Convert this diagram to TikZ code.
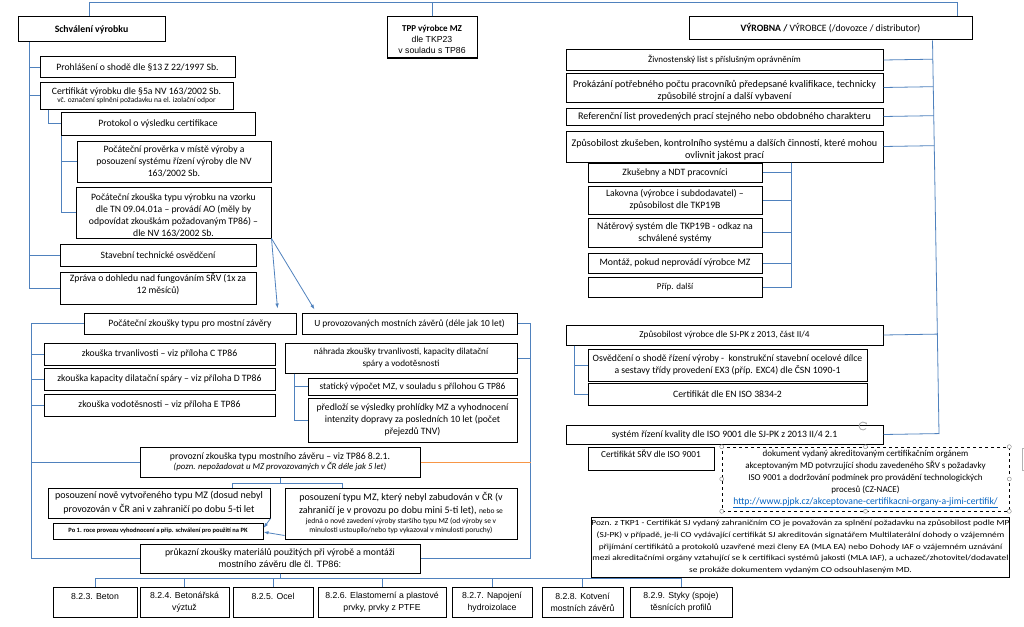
\documentclass[tikz,border=0pt]{standalone}
\usepackage{fontspec}
\setmainfont{Carlito}
\newfontfamily\arialfont{Liberation Sans}
\newfontfamily\widefont[FakeStretch=1.2]{Carlito}
\usetikzlibrary{calc}
\usetikzlibrary{arrows.meta}

\definecolor{linkblue}{RGB}{79,129,189}
\definecolor{orangeline}{RGB}{247,150,70}
\definecolor{hrefblue}{RGB}{5,99,193}
\def\smalltxt{\fontsize{7.5}{8}\selectfont}

\tikzset{
  box/.style={draw, line width=1pt, inner sep=0pt, align=center,
    font=\fontsize{9.7}{12}\selectfont},
  rect/.style n args={4}{at={({(#1+#3)/2},{(#2+#4)/2})},
    minimum width={#3-#1}, minimum height={#4-#2}},
  fs/.style={font=\fontsize{#1}{12}\selectfont},
  conn/.style={draw=linkblue, line width=0.8pt},
  tip/.style={-{Latex[length=5pt,width=3.5pt]}},
  arialbox/.style={box, font=\arialfont\fontsize{8.7}{12}\selectfont}
}

\begin{document}
\begin{tikzpicture}[x=1pt,y=-1pt]
\useasboundingbox (0,0) rectangle (1024,626);

% schvaleni vyrobku
\node[box, rect={18}{17}{165}{42}, font=\bfseries\fontsize{9.8}{11}\selectfont] (schval) {Schválení výrobku};
\node[box, rect={40}{57}{235}{77}] (prohl) {Prohlášení o shodě dle §13 Z 22/1997 Sb.};
\node[box, rect={40}{82}{233}{109}] (certif) {Certifikát výrobku dle §5a NV 163/2002 Sb.\\[-3.5pt]{\smalltxt vč. označení splnění požadavku na el. izolační odpor}};
\node[box, rect={61}{112}{255}{135}] (protok) {Protokol o výsledku certifikace};
\node[box, rect={77}{141}{271}{182}] (prov) {Počáteční prověrka v místě výroby a\\posouzení systému řízení výroby dle NV\\163/2002 Sb.};
\node[box, rect={76}{187}{271}{238}] (pzk) {\rule{0pt}{12pt}Počáteční zkouška typu výrobku na vzorku\\dle TN 09.04.01a – provádí AO (měly by\\odpovídat zkouškám požadovaným TP86) –\\dle NV 163/2002 Sb.};
\node[box, rect={60}{244}{256}{266}] (stav) {Stavební technické osvědčení};
\node[box, rect={60}{272}{256}{304}] (zprava) {Zpráva o dohledu nad fungováním SŘV (1x za\\12 měsíců)\\[-4pt]\mbox{}};

% TPP
\node[arialbox, rect={387}{17}{477}{58}, font=\arialfont\fontsize{8.7}{11}\selectfont] (tpp) {\rule{0pt}{11pt}{\rmfamily\bfseries\fontsize{9}{11}\selectfont TPP výrobce MZ}\\dle TKP23\\v souladu s TP86};

% vyrobna
\node[box, rect={689}{17}{972}{40}] (vyrob) {\textbf{VÝROBNA /} VÝROBCE (/dovozce / distributor)};
\node[box, fs=9, rect={566}{50}{883}{70}] (zivn) {Živnostenský list s příslušným oprávněním};
\node[box, fs=10.1, rect={566}{73}{883}{102}] (prok) {\rule{0pt}{13pt}Prokázání potřebného počtu pracovníků předepsané kvalifikace, technicky\\způsobilé strojní a další vybavení};
\node[box, fs=10.1, rect={566}{108}{883}{125}] (refer) {Referenční list provedených prací stejného nebo obdobného charakteru};
\node[box, fs=10.1, rect={566}{131}{883}{162}] (zpus) {\rule{0pt}{13pt}Způsobilost zkušeben, kontrolního systému a dalších činností, které mohou\\ovlivnit jakost prací};
\node[box, rect={588}{163}{762}{182}] (zkus) {Zkušebny a NDT pracovníci};
\node[box, rect={588}{186}{762}{214}] (lak) {Lakovna (výrobce i subdodavatel) –\\způsobilost dle TKP19B};
\node[box, fs=9.8, rect={588}{218}{762}{247}] (nater) {Nátěrový systém dle TKP19B - odkaz na\\schválené systémy};
\node[box, fs=9.8, rect={588}{253}{762}{273}] (mont) {Montáž, pokud neprovádí výrobce MZ};
\node[box, fs=9, rect={588}{277}{762}{297}] (dalsi) {Příp. další};
\node[box, fs=9.2, rect={566}{325}{883}{345}] (sjpk) {Způsobilost výrobce dle SJ-PK z 2013, část II/4};
\node[box, rect={588}{349}{867}{381}] (osv) {Osvědčení o shodě řízení výroby -\ \ konstrukční stavební ocelové dílce\\a sestavy třídy provedení EX3 (příp. EXC4) dle ČSN 1090-1};
\node[box, rect={588}{383}{867}{405}] (cen) {Certifikát dle EN ISO 3834-2};
\node[box, rect={566}{425}{883}{444}] (iso) {systém řízení kvality dle ISO 9001 dle SJ-PK z 2013 II/4 2.1};
\node[box, fs=9.2, rect={588}{447}{714}{470}] (csrv) {Certifikát SŘV dle ISO 9001\\[-3pt]\mbox{}};
\node[box, dashed, line width=0.6pt, rect={722}{447}{1009}{511}, font=\fontsize{9}{12}\selectfont] (dok) {dokument vydaný akreditovaným certifikačním orgánem\\akceptovaným MD potvrzující shodu zavedeného SŘV s požadavky\\ISO 9001 a dodržování podmínek pro provádění technologických\\procesů (CZ-NACE)\\{\fontsize{9.7}{11}\selectfont\textcolor{hrefblue}{\underline{http://www.pjpk.cz/akceptovane-certifikacni-organy-a-jimi-certifik/}}}};
\node[box, rect={593}{517}{1008}{577}, font=\widefont\fontsize{7.8}{11.8}\selectfont] (pozn) {Pozn. z TKP1 - Certifikát SJ vydaný zahraničním CO je považován za splnění požadavku na způsobilost podle MP\\(SJ-PK) v případě, je-li CO vydávající certifikát SJ akreditován signatářem Multilaterální dohody o vzájemném\\přijímání certifikátů a protokolů uzavřené mezi členy EA (MLA EA) nebo Dohody IAF o vzájemném uznávání\\mezi akreditačními orgány vztahující se k certifikaci systémů jakosti (MLA IAF), a uchazeč/zhotovitel/dodavatel\\se prokáže dokumentem vydaným CO odsouhlaseným MD.};

% mostni zavery
\node[box, rect={84}{313}{296}{334}] (pocz) {Počáteční zkoušky typu pro mostní závěry};
\node[box, fs=9.4, rect={302}{313}{517}{334}] (uprov) {U provozovaných mostních závěrů (déle jak 10 let)};
\node[box, rect={44}{343}{275}{365}] (trv) {zkouška trvanlivosti – viz příloha C TP86};
\node[box, rect={44}{368}{275}{390}] (kap) {zkouška kapacity dilatační spáry – viz příloha D TP86};
\node[box, rect={44}{394}{275}{416}] (vod) {zkouška vodotěsnosti – viz příloha E TP86};
\node[box, fs=9.2, rect={285}{343}{517}{373}] (nahr) {náhrada zkoušky trvanlivosti, kapacity dilatační\\spáry a vodotěsnosti};
\node[box, fs=9.4, rect={308}{378}{517}{395}] (stat) {statický výpočet MZ, v souladu s přílohou G TP86};
\node[box, rect={308}{398}{517}{442}] (predl) {předloží se výsledky prohlídky MZ a vyhodnocení\\intenzity dopravy za posledních 10 let (počet\\přejezdů TNV)};
\node[box, rect={140}{447}{420}{477}] (provz) {provozní zkouška typu mostního závěru – viz TP86 8.2.1.\\[-1.5pt]{\itshape\fontsize{8.8}{9}\selectfont (pozn. nepožadovat u MZ provozovaných v ČR déle jak 5 let)}};
\node[box, rect={48}{488}{270}{518}, font=\fontsize{10}{14}\selectfont] (nove) {posouzení nově vytvořeného typu MZ (dosud nebyl\\provozován v ČR ani v zahraničí po dobu 5-ti let};
\node[box, rect={285}{488}{517}{539}, font=\fontsize{10}{13}\selectfont] (typmz) {posouzení typu MZ, který nebyl zabudován v ČR (v\\zahraničí je v provozu po dobu mini 5-ti let), {\smalltxt nebo se}\\[-3pt]{\smalltxt jedná o nové zavedení výroby staršího typu MZ (od výroby se v}\\[-4pt]{\smalltxt minulosti ustoupilo/nebo typ vykazoval v minulosti poruchy)}};
\node[box, rect={53}{523}{263}{539}, font=\bfseries\fontsize{6.5}{7}\selectfont] (po1) {Po 1. roce provozu vyhodnocení a příp. schválení pro použití na PK};
\node[box, rect={140}{544}{420}{573}] (prukaz) {průkazní zkoušky materiálů použitých při výrobě a montáži\\{\arialfont\fontsize{9.2}{10}\selectfont mostního závěru dle čl. TP86:}};
\foreach \n/\xa/\xb/\txt in {1/53/137/{8.2.3. Beton\\\mbox{}}, 2/140/229/{8.2.4. Betonářská\\výztuž}, 3/233/313/{8.2.5. Ocel\\\mbox{}}, 4/318/446/{8.2.6. Elastomerní a plastové\\prvky, prvky z PTFE}, 5/452/532/{8.2.7. Napojení\\hydroizolace}, 6/542/623/{8.2.8. Kotvení\\mostních závěrů}, 7/630/732/{8.2.9. Styky (spoje)\\těsnících profilů}}
  \node[arialbox, rect={\xa}{587}{\xb}{617}] (b\n) {\txt};

% spojnice
\draw[conn] (tpp.north) -- ++(0,-14) -| ([xshift=-2pt]schval.north);
\draw[conn] (tpp.north) -- ++(0,-14) -| ([xshift=126.5pt]vyrob.north);
\foreach \n in {prohl,certif,stav,zprava}
  \draw[conn] ([xshift=12pt]schval.south west) |- (\n.west);
\draw[conn] ([xshift=9pt]certif.south west) |- (protok.west);
\foreach \n in {prov,pzk}
  \draw[conn] ([xshift=1pt]protok.south west) |- (\n.west);
\draw[conn,tip] (pzk.south east) -- ([xshift=-19pt,yshift=4pt]pocz.north east);
\draw[conn,tip] (pzk.south east) -- ([xshift=13pt,yshift=3pt]uprov.north west);

\coordinate (rtop) at ([xshift=-40pt]vyrob.south east);
\coordinate (rbot) at (939,434);
\draw[conn] (rtop) -- (rbot);
\foreach \n in {zivn,prok,refer,zpus,sjpk,iso}
  \draw[conn] (\n.east) -- ($(rtop)!(\n.east)!(rbot)$);
\foreach \n in {zkus,lak,nater,mont,dalsi}
  \draw[conn] ([xshift=226pt]zpus.south west) |- (\n.east);
\foreach \n in {osv,cen}
  \draw[conn] ([xshift=9pt]sjpk.south west) |- (\n.west);

\foreach \n in {trv,kap,vod,provz,prukaz}
  \draw[conn] (pocz.west) -- ++(-52,0) |- (\n.west);
\coordinate (uspine) at ([xshift=13pt]uprov.east);
\foreach \n in {nahr,prukaz}
  \draw[conn] (uprov.east) -- (uspine) |- (\n.east);
\draw[draw=orangeline, line width=0.8pt] (provz.east) -- (provz.east -| uspine);
\foreach \n in {stat,predl}
  \draw[conn] ([xshift=10pt]nahr.south west) |- (\n.west);
\draw[conn] (provz.south) -- ++(0,6) -| ([xshift=73pt]nove.north);
\draw[conn] (provz.south) -- ++(0,6) -| ([xshift=-59pt]typmz.north);
\draw[conn,tip] (nove.south east) -- ([yshift=3pt]po1.east);
\draw[conn,tip] ([yshift=4pt]typmz.south west) -- ([yshift=-1pt]po1.east);
\foreach \i in {1,...,7}
  \draw[conn] (prukaz.south) -- ++(0,5) -| (b\i.north);

% uchyty vybraneho pole
\foreach \p in {north west,north,north east,west,east,south west,south,south east}
  \draw[gray, fill=white, line width=0.4pt] (dok.\p) circle (2pt);
\draw[gray!70, line width=0.8pt, -{Latex[length=2pt]}] (863,426) ++(40:4) arc (40:340:4);
\draw[gray!60, line width=0.5pt] (1024,448) -- (1022,448) -- (1022,470) -- (1024,470);
\end{tikzpicture}
\end{document}
